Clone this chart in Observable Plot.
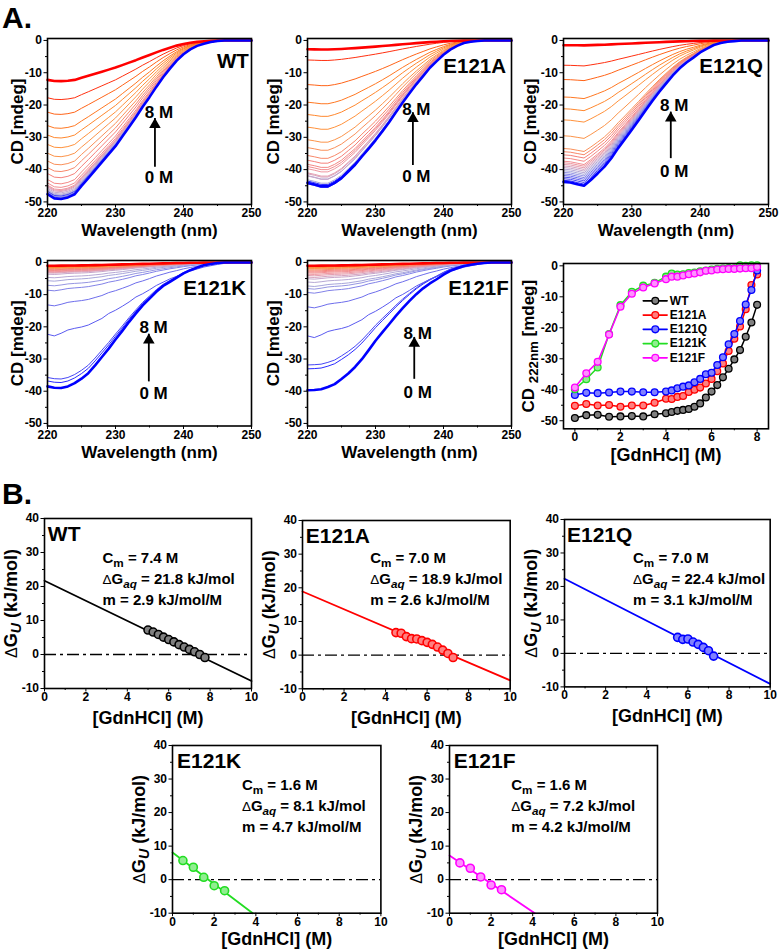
<!DOCTYPE html>
<html><head><meta charset="utf-8">
<script src="https://cdn.jsdelivr.net/npm/d3@7"></script>
<script src="https://cdn.jsdelivr.net/npm/@observablehq/plot@0.6"></script>
<style>
html,body{margin:0;padding:0;background:#fff;}
#fig{position:relative;width:780px;height:951px;overflow:hidden;background:#fff;}
</style></head><body><div id="fig"></div>
<script>
// ---------------- DATA ----------------
const wavelength = [220,221,222,223,224,225,226,227,228,229,230,231,232,233,234,235,236,237,238,239,240,241,242,243,244,245,246,247,248,249,250];
// 0 M (native) spectra
const cdNativeWT = [-48.0,-49.3,-49.5,-49.0,-48.0,-45.4,-43.0,-40.5,-38.0,-35.5,-33.0,-30.0,-27.0,-24.0,-20.7,-17.7,-14.5,-11.5,-8.8,-6.3,-4.3,-2.8,-1.7,-1.0,-0.5,-0.2,0,0,0,0,0];
const cdNativeA  = [-44.8,-45.3,-45.9,-45.9,-44.8,-43.3,-41.2,-39.1,-36.5,-34.0,-31.4,-28.6,-25.7,-22.6,-19.5,-16.6,-13.8,-11.2,-8.6,-6.5,-4.5,-2.9,-1.7,-0.8,-0.4,-0.2,0,0,0,0,0];
const cdNativeQ  = [-43.6,-43.8,-44.3,-44.8,-43.0,-41.0,-38.9,-36.3,-33.2,-30.4,-27.5,-24.6,-21.6,-18.7,-15.9,-13.3,-10.8,-8.6,-6.8,-5.3,-3.7,-2.5,-1.4,-0.8,-0.4,-0.2,0,0,0,0,0];
const cdNativeK  = [-38.4,-38.8,-38.9,-38.4,-37.4,-36.0,-34.3,-31.9,-29.3,-26.7,-23.9,-21.2,-18.4,-15.8,-13.3,-11.2,-9.1,-7.3,-6.0,-4.7,-3.4,-2.4,-1.6,-0.9,-0.5,-0.2,0,0,0,0,0];
const cdNativeF  = [-39.5,-39.4,-39.2,-38.5,-37.6,-36.0,-34.3,-32.3,-29.9,-27.1,-24.2,-21.6,-19.1,-16.5,-14.1,-11.9,-9.8,-8.0,-6.5,-5.2,-3.8,-2.6,-1.8,-1.1,-0.7,-0.4,-0.2,0,0,0,0];
// partially unfolded spectrum (E121K, 1.5 M)
const cdPartialK = [-21.8,-22.3,-21.5,-20.5,-20.0,-19.6,-19.0,-18.0,-17.0,-15.5,-14.5,-13.3,-12.0,-10.5,-9.5,-8.3,-7.0,-6.0,-5.0,-4.2,-3.3,-2.6,-2.0,-1.4,-1.0,-0.6,-0.3,-0.1,0,0,0];

// GdnHCl titration (CD at 222 nm)
const gdn = [0,0.5,1,1.5,2,2.5,3,3.5,4,4.25,4.5,4.75,5,5.25,5.5,5.75,6,6.25,6.5,6.75,7,7.25,7.5,7.75,8];
const cd222WT = [-49.1,-48.2,-48.1,-48.7,-48.6,-48.5,-48.6,-47.9,-47.6,-47.2,-46.8,-46.5,-46.2,-45.5,-44.4,-42.5,-40.6,-38.5,-36.0,-33.2,-30.2,-27.2,-22.9,-18.3,-12.6];
const cd222A  = [-45.2,-44.6,-45.1,-44.9,-45.5,-45.1,-45.1,-44.2,-42.9,-43.0,-42.3,-42.0,-40.7,-40.0,-39.3,-38.0,-36.5,-34.0,-31.5,-27.5,-23.5,-19.6,-14.0,-6.2,-2.8];
const cd222Q  = [-41.7,-41.0,-41.1,-40.9,-40.6,-40.6,-40.8,-40.8,-40.6,-40.2,-39.5,-39.0,-38.6,-37.6,-36.5,-35.0,-34.5,-32.0,-29.5,-25.3,-22.0,-17.8,-12.5,-7.8,-1.5];
const cd222K  = [-39.8,-36.6,-32.8,-22.0,-12.7,-8.4,-6.4,-5.5,-3.5,-2.5,-2.8,-2.7,-2.3,-2.2,-1.8,-1.5,-1.2,-1.0,-0.9,-0.7,-0.8,0.2,0.0,0.2,0.2];
const cd222F  = [-39.3,-34.7,-31.0,-22.2,-13.2,-9.0,-7.0,-5.7,-4.3,-3.5,-3.5,-3.1,-2.7,-2.5,-2.1,-1.6,-1.5,-1.2,-1.1,-1.0,-1.0,-0.9,-0.8,-0.8,-0.4];
// spectrum depths at 222 nm as drawn in the spectra panels (0 M first)
const cdDepthQ = [-44.5,-44.0,-43.5,-43.0,-42.5,-42.0,-41.5,-41.0,-40.5,-40.0,-39.5,-39.0,-38.5,-38.0,-37.0,-36.0,-35.0,-34.0,-30.0,-25.0,-21.5,-17.8,-12.3,-7.8,-1.5];
const cdDepthK = [-39.0,-37.3,-36.2,-22.0,-13.0,-8.5,-7.0,-5.6,-4.6,-3.6,-3.2,-3.0,-2.8,-2.6,-2.4,-2.2,-2.0,-1.8,-1.6,-1.5,-1.4,-1.3,-1.2,-1.1,-1.0];
const cdDepthF = [-39.4,-32.8,-31.6,-22.5,-13.6,-9.2,-8.0,-7.2,-6.0,-5.0,-4.5,-4.0,-3.6,-3.2,-2.9,-2.6,-2.3,-2.0,-1.8,-1.6,-1.4,-1.3,-1.2,-1.1,-1.0];

// Linear extrapolation (ΔG_U vs GdnHCl)
const dgX_WT = [5,5.25,5.5,5.75,6,6.25,6.5,6.75,7,7.25,7.5,7.75];
const dgY_WT = [7.2,6.6,5.9,5.1,4.4,3.7,2.9,2.2,1.5,0.8,0.0,-0.9];
const dgX_A = [4.5,4.75,5,5.25,5.5,5.75,6,6.25,6.5,6.75,7,7.25];
const dgY_A = [6.7,6.5,5.5,4.9,4.8,4.3,3.8,3.2,2.4,1.5,0.5,-0.7];
const dgX_Q = [5.5,5.75,6,6.25,6.5,6.75,7,7.25];
const dgY_Q = [4.8,4.2,4.3,3.4,2.7,1.8,0.8,-0.8];
const dgX_K = [0.5,1,1.5,2,2.5];
const dgY_K = [5.7,3.7,0.7,-1.8,-3.3];
const dgX_F = [0.5,1,1.5,2,2.5];
const dgY_F = [5.0,3.4,0.8,-1.6,-3.0];
// fitted lines (end points)
const fitX_WT = [0,10],   fitY_WT = [21.7,-7.8];
const fitX_A  = [0,10],   fitY_A  = [18.9,-7.5];
const fitX_Q  = [0,10],   fitY_Q  = [22.3,-9.1];
const fitX_K  = [0,3.85], fitY_K  = [8.1,-10];
const fitX_F  = [0,4.1],  fitY_F  = [7.2,-10];

const variants = ["WT","E121A","E121Q","E121K","E121F"];
const cmValues  = [7.4,7.0,7.0,1.6,1.6];
const dGaqValues = [21.8,18.9,22.4,8.1,7.2];
const mValues   = [2.9,2.6,3.1,4.7,4.2];

const wlTicks = [220,230,240,250], wlMinor = [225,235,245];
const cdTicks = [-50,-40,-30,-20,-10,0], cdMinor = [-45,-35,-25,-15,-5];
const gTicks = [0,2,4,6,8], gMinor = [1,3,5,7];
const bTicks = [0,2,4,6,8,10], bMinor = [1,3,5,7,9];
const dgTicks = [-10,0,10,20,30,40], dgMinor = [-5,5,15,25,35];

// ---------------- STYLE ----------------
const cdPalette = ["#0000ff","#2a2aff","#4646f6","#5a5af0","#6e6eec","#8282e8","#9696e2","#a8a6da","#b6a8d4","#c6a6ca","#d6a2be","#e49eb0","#ee96a0","#f28e92","#f48886","#f6807a","#f8886a","#fa905a","#fc944a","#ff923c","#ff882e","#ff7822","#ff6418","#ff3010","#ff0000"];
const seriesColor = {"WT":"#000000","E121A":"#ff0000","E121Q":"#0000ff","E121K":"#22dd22","E121F":"#ff00ff"};
const seriesTint  = {"WT":"#808080","E121A":"#ff8080","E121Q":"#8080ff","E121K":"#90ee90","E121F":"#ff90ff"};
const FONT = "'Liberation Sans', Arial, Helvetica, sans-serif";
const M = {l: 52, r: 12, t: 12, b: 42};
const fig = document.getElementById("fig");

// subscript / italic markup: _{..} subscript, ~{..} italic subscript
function rich(svg) {
  svg.querySelectorAll("text").forEach(t => {
    if (t.querySelector("tspan")) return;
    const s = t.textContent;
    if (!/[_~]\{|Δ/.test(s)) return;
    t.textContent = "";
    const re = /([_~])\{([^}]*)\}|(Δ)|([^_~Δ]+)/g;
    let m, shifted = false;
    while ((m = re.exec(s))) {
      const ts = document.createElementNS("http://www.w3.org/2000/svg", "tspan");
      if (m[1]) {
        ts.textContent = m[2];
        ts.setAttribute("font-size", "78%");
        ts.setAttribute("dy", "0.34em");
        if (m[1] === "~") ts.setAttribute("font-style", "italic");
        shifted = true;
      } else {
        ts.textContent = m[3] || m[4];
        if (shifted) { ts.setAttribute("dy", "-0.265em"); shifted = false; }
        if (m[3]) { ts.setAttribute("font-weight", "normal"); ts.setAttribute("font-size", "90%"); }
      }
      t.appendChild(ts);
    }
  });
}

function panel(o) {
  const [x0, x1, y0, y1] = o.frame;
  const fmt = d => String(d);
  const svg = Plot.plot({
    width: x1 - x0 + M.l + M.r, height: y1 - y0 + M.t + M.b,
    marginLeft: M.l, marginRight: M.r, marginTop: M.t, marginBottom: M.b,
    x: {domain: o.xDomain}, y: {domain: o.yDomain},
    color: {type: "identity"},
    style: {background: "transparent", overflow: "visible", fontFamily: FONT, fontWeight: "bold", fontSize: "12px", color: "#000"},
    marks: [
      ...o.marks,
      Plot.frame({stroke: "#000", strokeWidth: 1.6}),
      Plot.axisX(o.xTicks, {tickSize: 3.5, tickPadding: 0.5, tickFormat: fmt, label: null}),
      Plot.axisX(o.xMinor, {tickSize: 2, tickFormat: () => "", label: null}),
      Plot.axisY(o.yTicks, {tickSize: 3.5, tickPadding: 2, tickFormat: fmt, label: null}),
      Plot.axisY(o.yMinor, {tickSize: 2, tickFormat: () => "", label: null}),
      Plot.text([o.xLabel], {text: d => d, frameAnchor: "bottom", textAnchor: "middle", dy: o.xLabelDy, lineAnchor: "bottom", fontSize: o.xLabelSize || 17}),
      Plot.text([o.yLabel], {text: d => d, frameAnchor: "left", textAnchor: "middle", dx: o.yLabelDx, rotate: -90, lineAnchor: "bottom", fontSize: o.yLabelSize || 17})
    ]
  });
  svg.style.position = "absolute";
  svg.style.left = (x0 - M.l) + "px";
  svg.style.top = (y0 - M.t) + "px";
  rich(svg);
  fig.appendChild(svg);
}

// ---------------- CD spectra panels ----------------
function cdPanel(c) {
  const nat = c.native.map(v => v / c.native[2]);
  const par = c.partial ? c.partial.map(v => v / c.partial[2]) : null;
  const last = c.depths.length - 1;
  const rows = [];
  c.depths.forEach((d, i) => {
    const sh = par && Math.abs(d) < 30 ? par : nat;
    wavelength.forEach((w, j) => rows.push({w, v: d * sh[j], i}));
  });
  const thin = rows.filter(r => r.i !== 0 && r.i !== last);
  const thickRed = rows.filter(r => r.i === last);
  const thickBlue = rows.filter(r => r.i === 0);
  const a = c.ann;
  panel({
    frame: c.frame, xDomain: [220, 250], yDomain: [-50.8, 0.6],
    xTicks: wlTicks, xMinor: wlMinor, yTicks: cdTicks, yMinor: cdMinor,
    xLabel: "Wavelength (nm)", xLabelDy: c.xLabelDy, yLabel: "CD [mdeg]", yLabelDx: c.yLabelDx,
    marks: [
      Plot.line(thin, {x: "w", y: "v", z: "i", stroke: r => cdPalette[r.i], strokeWidth: 1}),
      Plot.line(thickRed, {x: "w", y: "v", stroke: cdPalette[last], strokeWidth: 2.6}),
      Plot.line(thickBlue, {x: "w", y: "v", stroke: cdPalette[0], strokeWidth: 2.6}),
      Plot.ruleX([a], {x: "ax", y1: "tail", y2: "tip", stroke: "#000", strokeWidth: 1.8}),
      Plot.dot([a], {x: "ax", y: "tip", symbol: "triangle", r: 4.3, fill: "#000", stroke: "none", dy: 6}),
      Plot.text([a], {x: "tx", y: "eightY", text: () => "8 M", lineAnchor: "bottom", fontSize: 17}),
      Plot.text([a], {x: "tx", y: "zeroY", text: () => "0 M", lineAnchor: "bottom", fontSize: 17}),
      Plot.text([a], {x: "nameX", y: "nameY", text: () => c.name, textAnchor: "end", lineAnchor: "bottom", fontSize: 20.5})
    ]
  });
}

cdPanel({name: "WT", frame: [46.7, 250.7, 38, 204], native: cdNativeWT, depths: cd222WT, xLabelDy: 31, yLabelDx: -25,
  ann: {ax: 235.8, tail: -39.3, tip: -24.2, tx: 236.4, eightY: -23.9, zeroY: -44.0, nameX: 249.6, nameY: -8.4}});
cdPanel({name: "E121A", frame: [306.7, 510.7, 38, 204], native: cdNativeA, depths: cd222A, xLabelDy: 31, yLabelDx: -29,
  ann: {ax: 235.5, tail: -38.7, tip: -22.4, tx: 236.0, eightY: -23.2, zeroY: -43.9, nameX: 249.2, nameY: -10.1}});
cdPanel({name: "E121Q", frame: [563, 768, 38, 204], native: cdNativeQ, depths: cdDepthQ, xLabelDy: 31, yLabelDx: -28,
  ann: {ax: 235.7, tail: -36.6, tip: -22.2, tx: 236.2, eightY: -21.7, zeroY: -42.3, nameX: 249.2, nameY: -10.1}});
cdPanel({name: "E121K", frame: [46.7, 250.7, 260.4, 425.9], native: cdNativeK, partial: cdPartialK, depths: cdDepthK, xLabelDy: 31.5, yLabelDx: -25,
  ann: {ax: 234.9, tail: -37.1, tip: -22.3, tx: 235.6, eightY: -22.0, zeroY: -42.5, nameX: 249.2, nameY: -10.1}});
cdPanel({name: "E121F", frame: [306.7, 510.7, 260.4, 425.9], native: cdNativeF, partial: cdPartialK, depths: cdDepthF, xLabelDy: 31.5, yLabelDx: -29,
  ann: {ax: 235.7, tail: -36.3, tip: -23.3, tx: 236.2, eightY: -23.9, zeroY: -42.2, nameX: 249.6, nameY: -10.1}});

// ---------------- titration panel ----------------
(function () {
  const series = [cd222WT, cd222A, cd222Q, cd222K, cd222F];
  const marks = [];
  series.forEach((vals, k) => {
    const name = variants[k];
    const pts = gdn.map((x, j) => ({x, y: vals[j]}));
    marks.push(Plot.line(pts, {x: "x", y: "y", stroke: seriesColor[name], strokeWidth: 1.5}));
    marks.push(Plot.dot(pts, {x: "x", y: "y", r: 3.4, stroke: seriesColor[name], fill: seriesTint[name], strokeWidth: 1.3}));
  });
  // legend (inside the frame)
  variants.forEach((name, k) => {
    const y = -11.3 - k * 4.6;
    marks.push(Plot.line([{x: 3.0, y}, {x: 4.05, y}], {x: "x", y: "y", stroke: seriesColor[name], strokeWidth: 1.6}));
    marks.push(Plot.dot([{x: 3.53, y}], {x: "x", y: "y", r: 3.4, stroke: seriesColor[name], fill: seriesTint[name], strokeWidth: 1.3}));
    marks.push(Plot.text([{x: 4.17, y, t: name}], {x: "x", y: "y", text: "t", textAnchor: "start", lineAnchor: "middle", fontSize: 12}));
  });
  panel({
    frame: [563, 768, 262.7, 428], xDomain: [-0.5, 8.5], yDomain: [-52.6, 0.75],
    xTicks: gTicks, xMinor: gMinor, yTicks: cdTicks, yMinor: cdMinor,
    xLabel: "[GdnHCl] (M)", xLabelDy: 32, xLabelSize: 18, yLabel: "CD _{222nm} [mdeg]", yLabelDx: -30,
    marks
  });
})();

// ---------------- ΔG panels ----------------
function dgPanel(b) {
  const k = variants.indexOf(b.name);
  const pts = b.px.map((x, j) => ({x, y: b.py[j]}));
  const fit = b.fx.map((x, j) => ({x, y: b.fy[j]}));
  const lines = [
    `C_{m} = ${cmValues[k].toFixed(1)} M`,
    `ΔG~{aq} = ${dGaqValues[k].toFixed(1)} kJ/mol`,
    `m = ${mValues[k].toFixed(1)} kJ/mol/M`
  ].map((t, j) => ({t, x: b.annX, y: b.annY[j]}));
  panel({
    frame: b.frame, xDomain: [0, 10], yDomain: [-10, 40],
    xTicks: bTicks, xMinor: bMinor, yTicks: dgTicks, yMinor: dgMinor,
    xLabel: "[GdnHCl] (M)", xLabelDy: b.xLabelDy, xLabelSize: 18, yLabel: "ΔG~{U} (kJ/mol)", yLabelDx: -28, yLabelSize: 18,
    marks: [
      Plot.ruleY([0], {stroke: "#000", strokeWidth: 1.3, strokeDasharray: "12,4,3,4"}),
      Plot.line(fit, {x: "x", y: "y", stroke: seriesColor[b.name], strokeWidth: 1.8}),
      Plot.dot(pts, {x: "x", y: "y", r: 4, stroke: seriesColor[b.name], fill: seriesTint[b.name], strokeWidth: 1.6}),
      Plot.text([{x: b.nameX, y: 33.3, t: b.name}], {x: "x", y: "y", text: "t", textAnchor: "start", lineAnchor: "bottom", fontSize: 21}),
      Plot.text(lines, {x: "x", y: "y", text: "t", textAnchor: "start", lineAnchor: "bottom", fontSize: 15})
    ]
  });
}

dgPanel({name: "WT", frame: [43.7, 250.7, 518.3, 688.3], px: dgX_WT, py: dgY_WT, fx: fitX_WT, fy: fitY_WT, nameX: 0.16, annX: 2.8, annY: [27.0, 20.8, 14.6], xLabelDy: 35});
dgPanel({name: "E121A", frame: [302.3, 510, 520, 688.3], px: dgX_A, py: dgY_A, fx: fitX_A, fy: fitY_A, nameX: 0.16, annX: 3.26, annY: [27.3, 21.1, 14.9], xLabelDy: 35});
dgPanel({name: "E121Q", frame: [564.3, 770, 519.3, 686.7], px: dgX_Q, py: dgY_Q, fx: fitX_Q, fy: fitY_Q, nameX: 0.12, annX: 3.33, annY: [27.0, 20.8, 14.6], xLabelDy: 35});
dgPanel({name: "E121K", frame: [172.3, 380.7, 745, 912.7], px: dgX_K, py: dgY_K, fx: fitX_K, fy: fitY_K, nameX: 0.22, annX: 3.33, annY: [26.6, 20.4, 14.2], xLabelDy: 31.5});
dgPanel({name: "E121F", frame: [449, 657, 745, 912.7], px: dgX_F, py: dgY_F, fx: fitX_F, fy: fitY_F, nameX: 0.2, annX: 2.97, annY: [26.6, 20.4, 14.2], xLabelDy: 31.5});

// ---------------- section letters ----------------
const ov = d3.create("svg").attr("width", 780).attr("height", 951)
  .style("position", "absolute").style("left", "0px").style("top", "0px").style("pointer-events", "none")
  .attr("font-family", FONT).attr("font-weight", "bold").attr("font-size", 30);
ov.append("text").attr("x", 2).attr("y", 28).text("A.");
ov.append("text").attr("x", 2).attr("y", 504).text("B.");
fig.appendChild(ov.node());
</script></body></html>
